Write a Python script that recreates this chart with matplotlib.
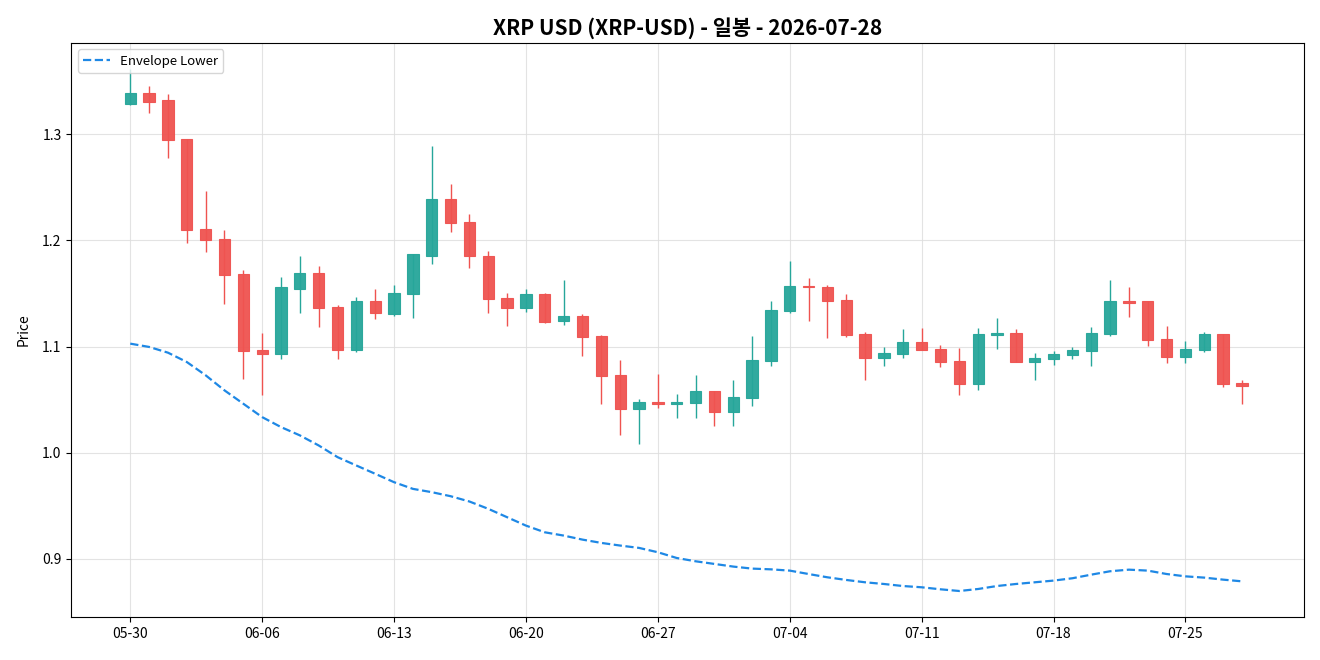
import numpy as np
import pandas as pd
import matplotlib
matplotlib.use("Agg")
import matplotlib.pyplot as plt
import matplotlib.dates as mdates

plt.rcParams['font.family'] = ['Noto Sans CJK KR', 'DejaVu Sans']

dates = pd.date_range("2026-05-30", "2026-07-28", freq="D")

opens = [1.3283, 1.3387, 1.3321, 1.2953, 1.2104, 1.2010, 1.1680, 1.0972, 1.0934, 1.1538,
         1.1689, 1.1377, 1.0972, 1.1425, 1.1311, 1.1500, 1.1858, 1.2387, 1.2170, 1.1858,
         1.1462, 1.1368, 1.1500, 1.1245, 1.1292, 1.1104, 1.0736, 1.0415, 1.0481, 1.0462,
         1.0472, 1.0585, 1.0387, 1.0519, 1.0868, 1.1340, 1.1575, 1.1566, 1.1443, 1.1123,
         1.0896, 1.0934, 1.1047, 1.0981, 1.0868, 1.0651, 1.1113, 1.1132, 1.0858, 1.0887,
         1.0925, 1.0962, 1.1123, 1.1434, 1.1425, 1.1075, 1.0906, 1.0972, 1.1123, 1.0660]
highs = [1.3615, 1.3453, 1.3377, 1.2958, 1.2462, 1.2094, 1.1717, 1.1132, 1.1660, 1.1849,
         1.1755, 1.1396, 1.1472, 1.1547, 1.1585, 1.1868, 1.2887, 1.2528, 1.2245, 1.1896,
         1.1509, 1.1538, 1.1509, 1.1623, 1.1311, 1.1113, 1.0877, 1.0509, 1.0745, 1.0557,
         1.0736, 1.0585, 1.0689, 1.1104, 1.1425, 1.1811, 1.1642, 1.1585, 1.1500, 1.1142,
         1.1000, 1.1170, 1.1179, 1.1019, 1.0991, 1.1179, 1.1274, 1.1170, 1.0943, 1.0962,
         1.1000, 1.1189, 1.1623, 1.1557, 1.1425, 1.1198, 1.1057, 1.1142, 1.1123, 1.0689]
lows = [1.3274, 1.3198, 1.2774, 1.1972, 1.1887, 1.1406, 1.0698, 1.0547, 1.0887, 1.1321,
        1.1189, 1.0887, 1.0953, 1.1264, 1.1292, 1.1274, 1.1774, 1.2075, 1.1736, 1.1321,
        1.1198, 1.1330, 1.1226, 1.1208, 1.0915, 1.0462, 1.0170, 1.0085, 1.0425, 1.0330,
        1.0330, 1.0255, 1.0255, 1.0443, 1.0821, 1.1321, 1.1245, 1.1085, 1.1094, 1.0689,
        1.0821, 1.0896, 1.0972, 1.0811, 1.0547, 1.0594, 1.0981, 1.0858, 1.0689, 1.0830,
        1.0887, 1.0821, 1.1104, 1.1283, 1.1010, 1.0849, 1.0849, 1.0953, 1.0623, 1.0462]
closes = [1.3387, 1.3302, 1.2943, 1.2094, 1.2000, 1.1670, 1.0962, 1.0934, 1.1557, 1.1689,
          1.1368, 1.0972, 1.1425, 1.1321, 1.1509, 1.1868, 1.2387, 1.2160, 1.1849, 1.1453,
          1.1368, 1.1500, 1.1236, 1.1292, 1.1094, 1.0726, 1.0415, 1.0481, 1.0462, 1.0481,
          1.0585, 1.0387, 1.0528, 1.0877, 1.1349, 1.1575, 1.1557, 1.1434, 1.1113, 1.0896,
          1.0943, 1.1047, 1.0972, 1.0858, 1.0651, 1.1123, 1.1132, 1.0858, 1.0896, 1.0934,
          1.0972, 1.1132, 1.1434, 1.1415, 1.1066, 1.0906, 1.0981, 1.1123, 1.0651, 1.0632]
env_lower = [1.1028, 1.0997, 1.0943, 1.0855, 1.0730, 1.0588, 1.0462, 1.0336, 1.0242, 1.0164,
             1.0069, 0.9959, 0.9880, 0.9802, 0.9723, 0.9660, 0.9629, 0.9591, 0.9541, 0.9472,
             0.9393, 0.9314, 0.9251, 0.9220, 0.9182, 0.9151, 0.9126, 0.9104, 0.9063, 0.9009,
             0.8978, 0.8953, 0.8928, 0.8909, 0.8902, 0.8890, 0.8858, 0.8827, 0.8802, 0.8780,
             0.8764, 0.8745, 0.8733, 0.8714, 0.8698, 0.8717, 0.8745, 0.8764, 0.8780, 0.8796,
             0.8818, 0.8852, 0.8884, 0.8899, 0.8890, 0.8858, 0.8836, 0.8824, 0.8805, 0.8789]

up_col, down_col = '#26a69a', '#ef5350'

o = np.array(opens); h = np.array(highs); l = np.array(lows); c = np.array(closes)
x = mdates.date2num(dates)
cols = np.where(c >= o, up_col, down_col)

fig, ax = plt.subplots(figsize=(13.2, 6.6), dpi=100)
fig.subplots_adjust(left=0.054, right=0.988, top=0.935, bottom=0.065)

ax.vlines(x, l, h, colors=cols, linewidth=1, zorder=2)
ax.bar(x, np.maximum(np.abs(c - o), 0.0008), bottom=np.minimum(o, c), width=0.6,
       color=cols, edgecolor=cols, linewidth=0.8, alpha=0.95, zorder=3)
ax.plot(x, env_lower, linestyle='--', color='#1e88e5', linewidth=1.6, label='Envelope Lower', zorder=4)

ax.set_xlim(x[0] - 3.13, x[-1] + 3.3)
ax.set_xticks(x[::7])
ax.xaxis.set_major_formatter(mdates.DateFormatter('%m-%d'))
ax.grid(True, color='#dddddd', linewidth=0.8, alpha=0.8)
ax.set_axisbelow(True)
ax.set_ylabel('Price')
ax.yaxis.labelpad = 8
ax.set_title('XRP USD (XRP-USD) - 일봉 - 2026-07-28', fontsize=15, fontweight='bold')
ax.legend(loc='upper left', fontsize=9.5)

fig.savefig('out.png', dpi=100)
